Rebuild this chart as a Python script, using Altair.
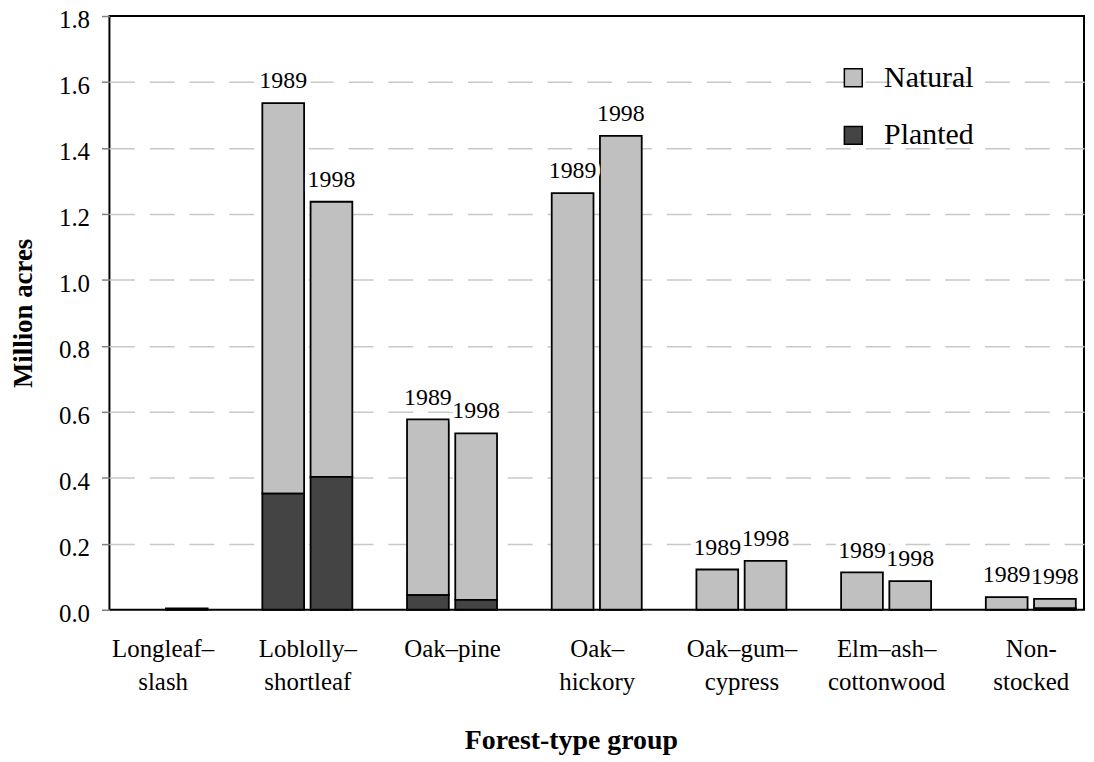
import json
import altair as alt
import pandas as pd

# ---- data ----
categories = ["Longleaf–\nslash", "Loblolly–\nshortleaf", "Oak–pine", "Oak–\nhickory",
              "Oak–gum–\ncypress", "Elm–ash–\ncottonwood", "Non-\nstocked"]
years = ["1989", "1998"]
types = ["Natural", "Planted"]

natural_1989 = [0.0, 1.184, 0.533, 1.263, 0.122, 0.113, 0.038]
planted_1989 = [0.0, 0.352, 0.044, 0.0, 0.0, 0.0, 0.0]
natural_1998 = [0.0, 0.834, 0.505, 1.437, 0.148, 0.087, 0.029]
planted_1998 = [0.004, 0.403, 0.030, 0.0, 0.0, 0.0, 0.004]

y_ticks = [0.0, 0.2, 0.4, 0.6, 0.8, 1.0, 1.2, 1.4, 1.6, 1.8]

series = {
    ("1989", "Natural"): natural_1989,
    ("1989", "Planted"): planted_1989,
    ("1998", "Natural"): natural_1998,
    ("1998", "Planted"): planted_1998,
}
rows = []
for (yr, tp), vals in series.items():
    for i, v in enumerate(vals):
        rows.append({"idx": i, "year": yr, "type": tp, "value": v,
                     "stack_order": 1 - types.index(tp)})
df = pd.DataFrame(rows)

FONT = "Liberation Serif"
label_expr = "split(" + json.dumps(categories, ensure_ascii=False) + "[datum.value], '\\n')"

x_enc = alt.X(
    "xpos:Q",
    scale=alt.Scale(domain=[-1 / 3, 6 + 1 / 3], nice=False, zero=False),
    axis=alt.Axis(
        values=list(range(len(categories))), labelExpr=label_expr,
        ticks=False, tickSize=0, domain=False, grid=False,
        labelFont=FONT, labelFontSize=25, labelColor="black",
        labelBaseline="alphabetic", labelPadding=47, labelLineHeight=33,
        title="Forest-type group", titleFont=FONT, titleFontSize=28,
        titleFontWeight="bold", titleColor="black",
        titleX=464, titleY=140, titleBaseline="alphabetic", titleAlign="center",
    ),
)

base = alt.Chart(df).transform_calculate(
    xpos="datum.idx + (datum.year == '1989' ? -1/6 : 1/6)"
)

bars = base.transform_filter("datum.value > 0").mark_bar(
    width=42, stroke="black", strokeWidth=1.8
).encode(
    x=x_enc,
    y=alt.Y(
        "value:Q", stack="zero",
        scale=alt.Scale(domain=[0, 1.8], nice=False),
        axis=alt.Axis(
            values=y_ticks, format=".1f", domain=False,
            ticks=True, tickSize=8, tickColor="#808080", tickWidth=1.5,
            labelFont=FONT, labelFontSize=25, labelColor="black", labelPadding=12,
            labelOffset=4,
            grid=True, gridColor="#c8c8c8", gridDash=[25, 15], gridWidth=1.5,
            gridOpacity={"condition": {"test": "datum.value <= 0 || datum.value >= 1.8",
                                       "value": 0}, "value": 1},
            title="Million acres", titleFont=FONT, titleFontSize=27,
            titleFontWeight="bold", titleColor="black", titlePadding=21,
        ),
    ),
    color=alt.Color(
        "type:N",
        scale=alt.Scale(domain=types, range=["#c0c0c0", "#444444"]),
        legend=alt.Legend(
            title=None, orient="none", legendX=733, legendY=47,
            symbolType="square", symbolSize=324, symbolStrokeColor="black",
            symbolStrokeWidth=1.5, symbolOpacity=1,
            labelFont=FONT, labelFontSize=30, labelColor="black", labelOffset=16,
            rowPadding=28, padding=0,
        ),
    ),
    order=alt.Order("stack_order:Q", sort="ascending"),
)

label_base = base.transform_aggregate(
    total="sum(value)", groupby=["idx", "year", "xpos"]
).transform_filter("datum.total > 0.01").encode(
    x=alt.X("xpos:Q"),
    y=alt.Y("total:Q"),
    text="year:N",
)

label_halo = label_base.mark_text(
    font=FONT, fontSize=24, color="white", stroke="white", strokeWidth=9,
    baseline="alphabetic", dy=-15
)
labels = label_base.mark_text(
    font=FONT, fontSize=24, color="black", baseline="alphabetic", dy=-15
)

chart = alt.layer(bars, label_halo, labels).properties(
    width=980, height=597,
    background="white",
    autosize=alt.AutoSizeParams(type="none"),
    padding={"left": 102, "top": 6, "right": 2, "bottom": 148},
).configure_view(stroke="black", strokeWidth=2)

chart.save("out.html", embed_options={"renderer": "svg", "actions": False})
